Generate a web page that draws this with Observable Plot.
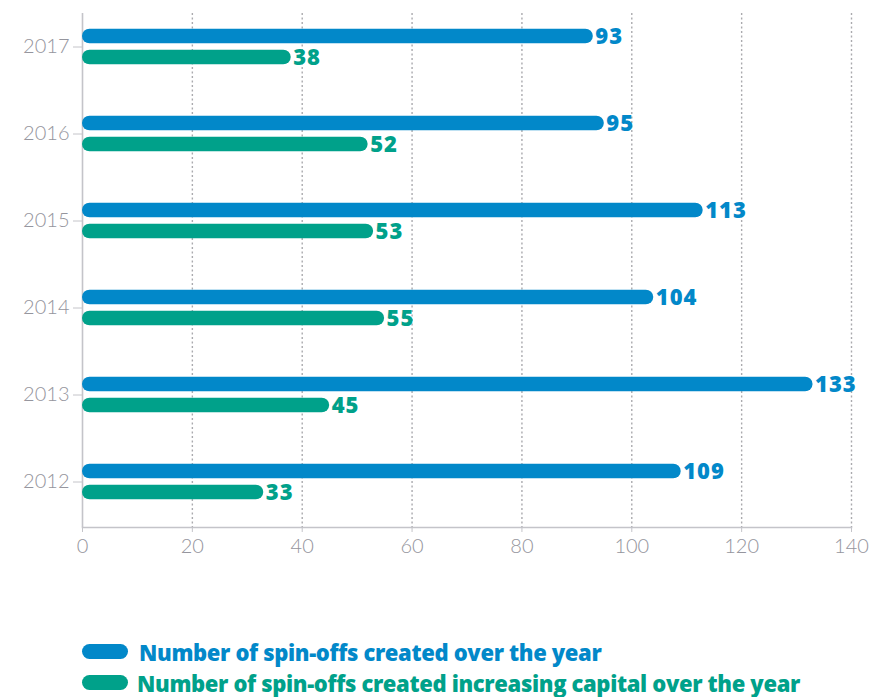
<!DOCTYPE html>
<html>
<head>
<meta charset="utf-8">
<script src="https://cdn.jsdelivr.net/npm/d3@7"></script>
<script src="https://cdn.jsdelivr.net/npm/@observablehq/plot@0.6"></script>
<style>
  html, body { margin: 0; padding: 0; background: #fff; }
  #wrap { position: relative; width: 871px; height: 697px; overflow: hidden; }
  #legend { position: absolute; left: 82px; top: 636px; font-family: "Open Sans", sans-serif; font-weight: 800; font-size: 22px; letter-spacing: -0.35px; }
  .item { display: flex; align-items: center; white-space: nowrap; height: 31px; }
  .item span.label { line-height: 20px; }
  .pill { width: 46px; height: 15px; border-radius: 7.5px; margin-right: 11px; flex: none; }
  .item:nth-child(2) .pill { margin-right: 9px; }
</style>
</head>
<body>
<div id="wrap">
  <div id="chart"></div>
  <div id="legend"></div>
</div>
<script>
const years = ["2017", "2016", "2015", "2014", "2013", "2012"];
const created = [93, 95, 113, 104, 133, 109];
const increasing = [38, 52, 53, 55, 45, 33];
const xTicks = [0, 20, 40, 60, 80, 100, 120, 140];
const seriesNames = ["Number of spin-offs created over the year", "Number of spin-offs created increasing capital over the year"];
const colors = ["#0288c9", "#00a18a"];

const data = years.map((year, i) => ({year, created: created[i], increasing: increasing[i]}));

const chart = Plot.plot({
  width: 871,
  height: 575,
  marginLeft: 82,
  marginRight: 20,
  marginTop: 13,
  marginBottom: 48,
  x: {domain: [0, 140], ticks: xTicks, label: null},
  y: {domain: years, range: [1.25, 526.25], padding: 0, label: null},
  style: {fontFamily: "Lato, Roboto, sans-serif"},
  marks: [
    Plot.ruleX(xTicks.slice(1), {stroke: "#aaaaae", strokeWidth: 1.4, strokeDasharray: "2,2.5"}),
    Plot.ruleX([0], {stroke: "#c4c4c9", strokeWidth: 1.6}),
    Plot.frame({anchor: "bottom", stroke: "#c4c4c9", strokeWidth: 1.6}),
    Plot.axisX({ticks: xTicks, tickSize: 5, tickPadding: 6, fontSize: 20, fontWeight: 300, color: "#95959d", stroke: "#c4c4c9", label: null}),
    Plot.axisY({tickSize: 9, tickPadding: 4, fontSize: 20, fontWeight: 300, color: "#95959d", stroke: "#c4c4c9", label: null}),
    Plot.barX(data, {x: "created", y: "year", fill: colors[0], insetTop: 25.75, insetBottom: 46.75, rx: 7.5}),
    Plot.barX(data, {x: "increasing", y: "year", fill: colors[1], insetTop: 46.75, insetBottom: 25.75, rx: 7.5}),
    Plot.text(data, {x: "created", y: "year", text: d => String(d.created), dy: -10.5, dx: 2, textAnchor: "start", fill: colors[0], fontSize: 22, fontWeight: 800, fontFamily: "Open Sans, sans-serif"}),
    Plot.text(data, {x: "increasing", y: "year", text: d => String(d.increasing), dy: 10.5, dx: 2, textAnchor: "start", fill: colors[1], fontSize: 22, fontWeight: 800, fontFamily: "Open Sans, sans-serif"})
  ]
});
document.getElementById("chart").appendChild(chart);
d3.select(chart).selectAll("g[aria-label='text'] text").style("letter-spacing", "1px");

const legend = document.getElementById("legend");
seriesNames.forEach((name, i) => {
  const item = document.createElement("div");
  item.className = "item";
  item.innerHTML = `<span class="pill" style="background:${colors[i]}"></span><span class="label" style="color:${colors[i]}">${name}</span>`;
  legend.appendChild(item);
});
</script>
</body>
</html>
